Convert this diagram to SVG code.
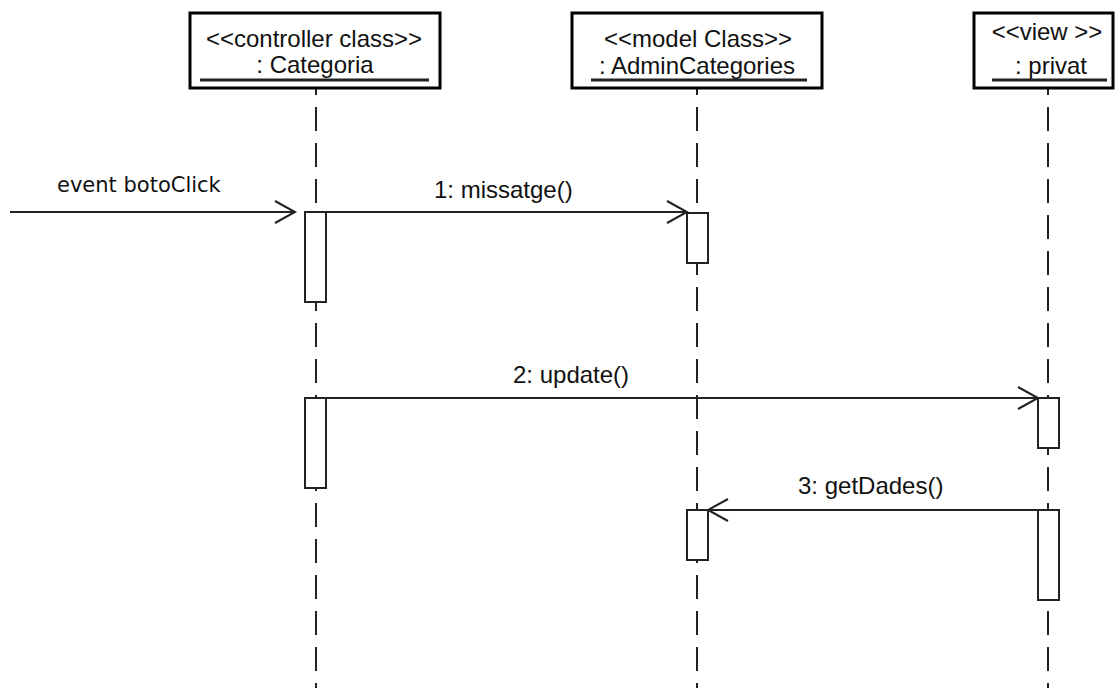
<svg xmlns="http://www.w3.org/2000/svg" width="1117" height="688" viewBox="0 0 1117 688">
<style>
.box{fill:#fff;stroke:#000;stroke-width:3}
.t{font-family:"Liberation Sans",Arial,sans-serif;font-size:24px;fill:#111}
.ul{stroke:#222;stroke-width:3}
.life{stroke:#222;stroke-width:2;stroke-dasharray:24 12;stroke-dashoffset:17;fill:none}
.act{fill:#fff;stroke:#222;stroke-width:2}
.msg{stroke:#222;stroke-width:2;fill:none}
.ev{font-family:"DejaVu Sans",Verdana,sans-serif;font-size:21px;fill:#111}
</style>
<defs>
<marker id="open" markerUnits="userSpaceOnUse" markerWidth="24" markerHeight="26" refX="21" refY="12" orient="auto" viewBox="0 0 24 24">
<path d="M1,1 L21,12 L1,23" fill="none" stroke="#222" stroke-width="2"/>
</marker>
</defs>
<rect width="1117" height="688" fill="#fff"/>
<g id="categoria">
<line class="life" x1="316" y1="88" x2="316" y2="688"/>
<rect class="box" x="190" y="13" width="250" height="75"/>
<text class="t" x="314" y="47" text-anchor="middle">&lt;&lt;controller class&gt;&gt;</text>
<text class="t" x="315" y="73" text-anchor="middle">: Categoria</text>
<line class="ul" x1="200" y1="80" x2="429" y2="80"/>
<rect class="act" x="305" y="212" width="21" height="90"/>
<rect class="act" x="305" y="398" width="21" height="90"/>
</g>
<g id="admincategories">
<line class="life" x1="697" y1="88" x2="697" y2="688"/>
<rect class="box" x="572" y="13" width="250" height="75"/>
<text class="t" x="698" y="47" text-anchor="middle">&lt;&lt;model Class&gt;&gt;</text>
<text class="t" x="697" y="74" text-anchor="middle">: AdminCategories</text>
<line class="ul" x1="591" y1="80" x2="807" y2="80"/>
<rect class="act" x="687" y="213" width="21" height="50"/>
<rect class="act" x="687" y="510" width="21" height="50"/>
</g>
<g id="privat">
<line class="life" x1="1048" y1="88" x2="1048" y2="688"/>
<rect class="box" x="974" y="13" width="139" height="75"/>
<text class="t" x="1047" y="40" text-anchor="middle">&lt;&lt;view &gt;&gt;</text>
<text class="t" x="1051" y="74" text-anchor="middle">: privat</text>
<line class="ul" x1="992" y1="80" x2="1107" y2="80"/>
<rect class="act" x="1038" y="398" width="21" height="50"/>
<rect class="act" x="1038" y="510" width="21" height="90"/>
</g>
<g id="connectors">
<line class="msg" x1="10" y1="212" x2="295" y2="212" marker-end="url(#open)"/>
<text class="ev" x="57" y="192">event botoClick</text>
<line class="msg" x1="326" y1="212" x2="687" y2="212" marker-end="url(#open)"/>
<text class="t" x="434" y="198">1: missatge()</text>
<line class="msg" x1="326" y1="398" x2="1038" y2="398" marker-end="url(#open)"/>
<text class="t" x="513" y="383">2: update()</text>
<line class="msg" x1="1038" y1="510" x2="708" y2="510" marker-end="url(#open)"/>
<text class="t" x="798" y="494">3: getDades()</text>
</g>
</svg>
